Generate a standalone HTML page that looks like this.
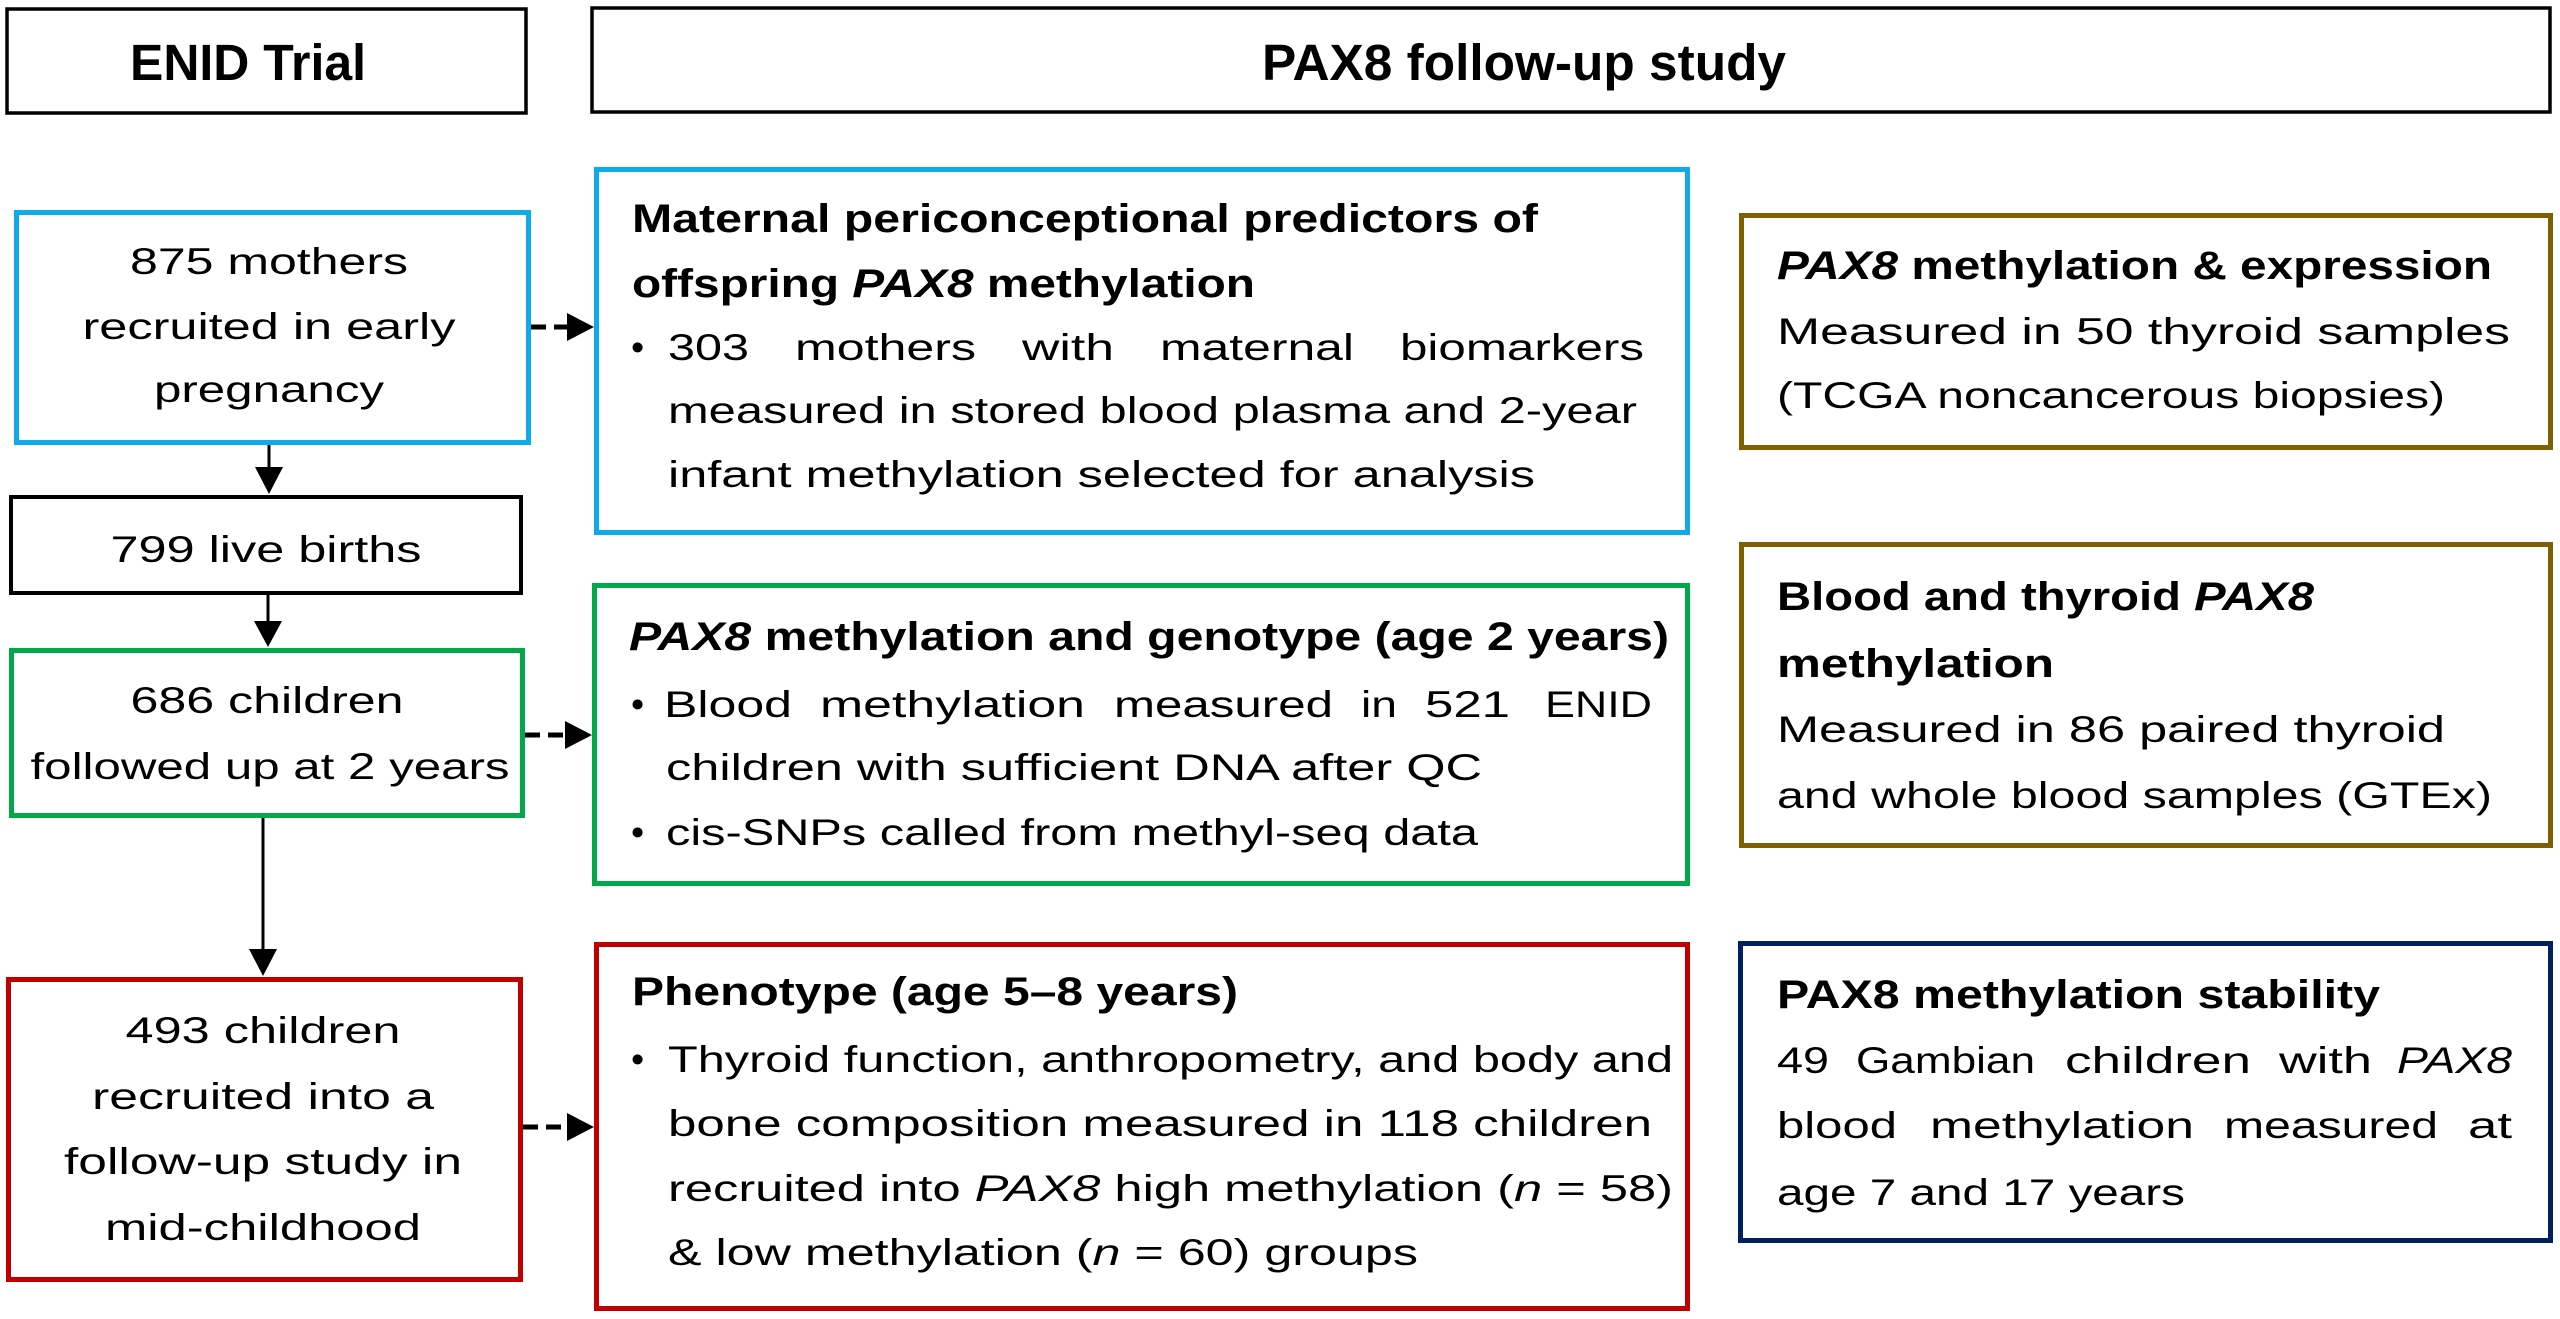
<!DOCTYPE html>
<html>
<head>
<meta charset="utf-8">
<style>
  html, body { margin: 0; padding: 0; background: #ffffff; }
  svg { display: block; }
  text { font-family: "Liberation Sans", Arial, sans-serif; fill: #000; }
  .r { font-size: 37.5px; }
  .b { font-size: 40px; font-weight: bold; }
  .h { font-size: 51px; font-weight: bold; }
  .i { font-style: italic; }
</style>
</head>
<body>
<svg width="2560" height="1319" viewBox="0 0 2560 1319" xmlns="http://www.w3.org/2000/svg">
  <rect x="0" y="0" width="2560" height="1319" fill="#ffffff"/>

  <!-- Header boxes -->
  <rect x="7" y="9" width="519" height="104" fill="none" stroke="#000" stroke-width="3.5"/>
  <rect x="592" y="8" width="1958" height="104" fill="none" stroke="#000" stroke-width="3.5"/>
  <text class="h" x="130" y="80" textLength="236" lengthAdjust="spacingAndGlyphs">ENID Trial</text>
  <text class="h" x="1262" y="80" textLength="524" lengthAdjust="spacingAndGlyphs">PAX8 follow-up study</text>

  <!-- Left column boxes -->
  <rect x="16.5" y="212.5" width="512" height="230" fill="none" stroke="#10AAE8" stroke-width="5"/>
  <rect x="11" y="497" width="510" height="96" fill="none" stroke="#000" stroke-width="4"/>
  <rect x="11.5" y="650.5" width="511" height="165" fill="none" stroke="#00A849" stroke-width="5"/>
  <rect x="8.5" y="979.5" width="512" height="300" fill="none" stroke="#C00000" stroke-width="5"/>

  <!-- Left column text -->
  <text class="r" x="269" y="274" text-anchor="middle" textLength="278" lengthAdjust="spacingAndGlyphs">875 mothers</text>
  <text class="r" x="269" y="339" text-anchor="middle" textLength="373" lengthAdjust="spacingAndGlyphs">recruited in early</text>
  <text class="r" x="269" y="402" text-anchor="middle" textLength="230" lengthAdjust="spacingAndGlyphs">pregnancy</text>
  <text class="r" x="266" y="562" text-anchor="middle" textLength="311" lengthAdjust="spacingAndGlyphs">799 live births</text>
  <text class="r" x="267" y="713" text-anchor="middle" textLength="273" lengthAdjust="spacingAndGlyphs">686 children</text>
  <text class="r" x="270" y="779" text-anchor="middle" textLength="479" lengthAdjust="spacingAndGlyphs">followed up at 2 years</text>
  <text class="r" x="263" y="1043" text-anchor="middle" textLength="275" lengthAdjust="spacingAndGlyphs">493 children</text>
  <text class="r" x="263" y="1109" text-anchor="middle" textLength="342" lengthAdjust="spacingAndGlyphs">recruited into a</text>
  <text class="r" x="263" y="1174" text-anchor="middle" textLength="398" lengthAdjust="spacingAndGlyphs">follow-up study in</text>
  <text class="r" x="263" y="1240" text-anchor="middle" textLength="316" lengthAdjust="spacingAndGlyphs">mid-childhood</text>

  <!-- Solid vertical arrows -->
  <line x1="269" y1="445" x2="269" y2="469" stroke="#000" stroke-width="3"/>
  <polygon points="255,467 283,467 269,494" fill="#000"/>
  <line x1="268" y1="595" x2="268" y2="623" stroke="#000" stroke-width="3"/>
  <polygon points="254,621 282,621 268,647" fill="#000"/>
  <line x1="263" y1="818" x2="263" y2="951" stroke="#000" stroke-width="3"/>
  <polygon points="249,949 277,949 263,976" fill="#000"/>

  <!-- Dashed horizontal arrows -->
  <line x1="531" y1="327" x2="568" y2="327" stroke="#000" stroke-width="5" stroke-dasharray="15 8"/>
  <polygon points="567,313 567,341 594,327" fill="#000"/>
  <line x1="525" y1="735" x2="566" y2="735" stroke="#000" stroke-width="5" stroke-dasharray="15 8"/>
  <polygon points="565,721 565,749 592,735" fill="#000"/>
  <line x1="523" y1="1127" x2="568" y2="1127" stroke="#000" stroke-width="5" stroke-dasharray="15 8"/>
  <polygon points="567,1113 567,1141 594,1127" fill="#000"/>

  <!-- Middle column boxes -->
  <rect x="596.5" y="169.5" width="1091" height="363" fill="none" stroke="#10AAE8" stroke-width="5"/>
  <rect x="594.5" y="585.5" width="1093" height="298" fill="none" stroke="#00A849" stroke-width="5"/>
  <rect x="596.5" y="944.5" width="1091" height="364" fill="none" stroke="#C00000" stroke-width="5"/>

  <!-- Blue right box text -->
  <text class="b" x="632" y="232" textLength="906" lengthAdjust="spacingAndGlyphs">Maternal periconceptional predictors of</text>
  <text class="b" x="632" y="297" textLength="623" lengthAdjust="spacingAndGlyphs">offspring <tspan class="i">PAX8</tspan> methylation</text>
  <text class="r" x="631" y="360">•</text>
  <text class="r" x="668" y="360" textLength="81" lengthAdjust="spacingAndGlyphs">303</text>
  <text class="r" x="795" y="360" textLength="181" lengthAdjust="spacingAndGlyphs">mothers</text>
  <text class="r" x="1022" y="360" textLength="92" lengthAdjust="spacingAndGlyphs">with</text>
  <text class="r" x="1160" y="360" textLength="194" lengthAdjust="spacingAndGlyphs">maternal</text>
  <text class="r" x="1400" y="360" textLength="244" lengthAdjust="spacingAndGlyphs">biomarkers</text>
  <text class="r" x="668" y="423" textLength="969" lengthAdjust="spacingAndGlyphs">measured in stored blood plasma and 2-year</text>
  <text class="r" x="668" y="487" textLength="867" lengthAdjust="spacingAndGlyphs">infant methylation selected for analysis</text>

  <!-- Green right box text -->
  <text class="b" x="629" y="650" textLength="1040" lengthAdjust="spacingAndGlyphs"><tspan class="i">PAX8</tspan> methylation and genotype (age 2 years)</text>
  <text class="r" x="631" y="717">•</text>
  <text class="r" x="664" y="717" textLength="128" lengthAdjust="spacingAndGlyphs">Blood</text>
  <text class="r" x="820" y="717" textLength="265" lengthAdjust="spacingAndGlyphs">methylation</text>
  <text class="r" x="1114" y="717" textLength="219" lengthAdjust="spacingAndGlyphs">measured</text>
  <text class="r" x="1361" y="717" textLength="36" lengthAdjust="spacingAndGlyphs">in</text>
  <text class="r" x="1425" y="717" textLength="85" lengthAdjust="spacingAndGlyphs">521</text>
  <text class="r" x="1545" y="717" textLength="107" lengthAdjust="spacingAndGlyphs">ENID</text>
  <text class="r" x="666" y="780" textLength="816" lengthAdjust="spacingAndGlyphs">children with sufficient DNA after QC</text>
  <text class="r" x="631" y="845">•</text>
  <text class="r" x="666" y="845" textLength="812" lengthAdjust="spacingAndGlyphs">cis-SNPs called from methyl-seq data</text>

  <!-- Red right box text -->
  <text class="b" x="632" y="1005" textLength="606" lengthAdjust="spacingAndGlyphs">Phenotype (age 5–8 years)</text>
  <text class="r" x="631" y="1072">•</text>
  <text class="r" x="668" y="1072" textLength="1005" lengthAdjust="spacingAndGlyphs">Thyroid function, anthropometry, and body and</text>
  <text class="r" x="668" y="1136" textLength="984" lengthAdjust="spacingAndGlyphs">bone composition measured in 118 children</text>
  <text class="r" x="668" y="1201" textLength="1005" lengthAdjust="spacingAndGlyphs">recruited into <tspan class="i">PAX8</tspan> high methylation (<tspan class="i">n</tspan> = 58)</text>
  <text class="r" x="668" y="1265" textLength="750" lengthAdjust="spacingAndGlyphs">&amp; low methylation (<tspan class="i">n</tspan> = 60) groups</text>

  <!-- Right column boxes -->
  <rect x="1741.5" y="215.5" width="809" height="232" fill="none" stroke="#7F6000" stroke-width="5"/>
  <rect x="1741.5" y="544.5" width="809" height="301" fill="none" stroke="#7F6000" stroke-width="5"/>
  <rect x="1740.5" y="943.5" width="810" height="297" fill="none" stroke="#002060" stroke-width="5"/>

  <!-- Brown box 1 -->
  <text class="b" x="1777" y="279" textLength="715" lengthAdjust="spacingAndGlyphs"><tspan class="i">PAX8</tspan> methylation &amp; expression</text>
  <text class="r" x="1777" y="344" textLength="733" lengthAdjust="spacingAndGlyphs">Measured in 50 thyroid samples</text>
  <text class="r" x="1777" y="408" textLength="668" lengthAdjust="spacingAndGlyphs">(TCGA noncancerous biopsies)</text>

  <!-- Brown box 2 -->
  <text class="b" x="1777" y="610" textLength="537" lengthAdjust="spacingAndGlyphs">Blood and thyroid <tspan class="i">PAX8</tspan></text>
  <text class="b" x="1777" y="677" textLength="277" lengthAdjust="spacingAndGlyphs">methylation</text>
  <text class="r" x="1777" y="742" textLength="668" lengthAdjust="spacingAndGlyphs">Measured in 86 paired thyroid</text>
  <text class="r" x="1777" y="808" textLength="715" lengthAdjust="spacingAndGlyphs">and whole blood samples (GTEx)</text>

  <!-- Navy box -->
  <text class="b" x="1777" y="1008" textLength="603" lengthAdjust="spacingAndGlyphs">PAX8 methylation stability</text>
  <text class="r" x="1777" y="1073" textLength="52" lengthAdjust="spacingAndGlyphs">49</text>
  <text class="r" x="1856" y="1073" textLength="179" lengthAdjust="spacingAndGlyphs">Gambian</text>
  <text class="r" x="2065" y="1073" textLength="186" lengthAdjust="spacingAndGlyphs">children</text>
  <text class="r" x="2279" y="1073" textLength="93" lengthAdjust="spacingAndGlyphs">with</text>
  <text class="r i" x="2397" y="1073" textLength="115" lengthAdjust="spacingAndGlyphs">PAX8</text>
  <text class="r" x="1777" y="1138" textLength="120" lengthAdjust="spacingAndGlyphs">blood</text>
  <text class="r" x="1930" y="1138" textLength="264" lengthAdjust="spacingAndGlyphs">methylation</text>
  <text class="r" x="2224" y="1138" textLength="214" lengthAdjust="spacingAndGlyphs">measured</text>
  <text class="r" x="2468" y="1138" textLength="44" lengthAdjust="spacingAndGlyphs">at</text>
  <text class="r" x="1777" y="1205" textLength="408" lengthAdjust="spacingAndGlyphs">age 7 and 17 years</text>
</svg>
</body>
</html>
